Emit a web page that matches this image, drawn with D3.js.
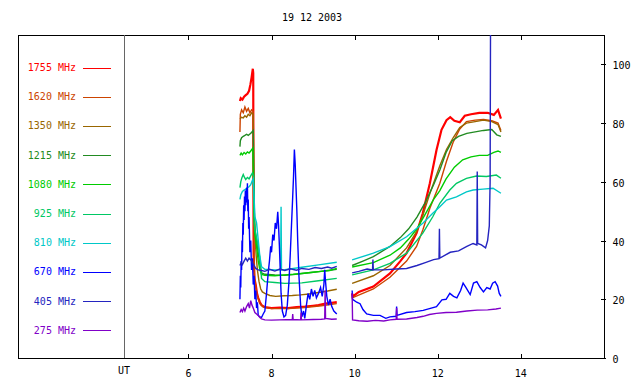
<!DOCTYPE html>
<html><head><meta charset="utf-8">
<script src="https://cdn.jsdelivr.net/npm/d3@7"></script>
<style>
body{margin:0;background:#fff}
svg{display:block}
text{font-family:"DejaVu Sans Mono",monospace;font-size:10px}
</style>
</head><body>
<svg id="chart" width="640" height="384"></svg>
<script>
// ---------- data ----------
const titleText = "19 12 2003";
const xTickHours = [6, 8, 10, 12, 14];
const utHour = 4.45;
const yTickValues = [0, 20, 40, 60, 80, 100];
const legendLabels = ["1755 MHz","1620 MHz","1350 MHz","1215 MHz","1080 MHz","925 MHz","810 MHz","670 MHz","405 MHz","275 MHz"];
const seriesColors = ["#ff0000","#cc4400","#996600","#228b22","#00cc00","#00c864","#00c8c8","#0000ff","#2424c0","#8000c8"];

// [hour UT, flux] ; null value marks the data gap
const f1755 = [[7.24,87.5],[7.26,88.5],[7.30,88],[7.34,89],[7.38,89.5],[7.42,90],[7.46,91],[7.49,93],[7.52,95.5],[7.55,98.5],[7.56,97],[7.565,60],[7.57,35],[7.59,27],[7.62,25],[7.65,22],[7.68,20.5],[7.72,19],[7.76,18],[7.84,17.3],[8.0,17],[8.2,17.2],[8.4,17],[8.6,17.3],[8.8,17.5],[9.0,17.8],[9.13,18],[9.3,18.5],[9.45,18.8],[9.57,19],
  [9.75,null],
  [9.94,22],[9.95,20.9],[10.1,22.5],[10.45,24.3],[10.85,28.8],[11.1,33],[11.25,35.7],[11.49,42.5],[11.64,49.3],[11.81,59.5],[11.97,70.8],[12.09,77.7],[12.21,81],[12.3,82],[12.4,80.8],[12.53,80.3],[12.65,82.5],[12.8,83],[13.0,83.5],[13.2,83.5],[13.35,82.8],[13.45,84.5],[13.52,81.5]];
const f1620 = [[7.24,77],[7.25,83],[7.28,84.5],[7.32,83.5],[7.36,85.5],[7.40,84],[7.44,85],[7.48,83.5],[7.52,84.5],[7.56,84],[7.575,40],[7.59,28],[7.62,24],[7.66,21],[7.72,18.5],[7.8,17.3],[8.0,16.8],[8.4,16.8],[8.8,17.2],[9.2,17.8],[9.57,18.5],
  [9.75,null],
  [9.94,20.5],[10.45,23.5],[10.85,27.5],[11.25,33],[11.49,38],[11.64,43.6],[11.81,51],[12.05,59.5],[12.21,67],[12.37,73.5],[12.53,78],[12.69,80.5],[12.9,81],[13.1,81.2],[13.3,80.8],[13.45,80],[13.52,77.5]];
const f1350 = [[7.24,81.5],[7.28,82],[7.32,81.8],[7.36,82.5],[7.40,82],[7.44,83],[7.48,82.5],[7.52,83.5],[7.56,83],[7.58,55],[7.60,42],[7.63,35],[7.66,30],[7.70,26],[7.74,23.5],[7.78,22.5],[7.84,22],[7.96,21.3],[8.1,21],[8.3,21.2],[8.5,21.3],[8.7,21.5],[8.9,21.8],[9.13,22.3],[9.35,22.8],[9.57,23.4],
  [9.75,null],
  [9.94,25.4],[10.45,28],[10.85,31.5],[11.25,37.5],[11.49,43],[11.64,48.5],[11.81,56],[12.05,65.5],[12.21,71],[12.37,75],[12.53,78.5],[12.69,80],[12.9,80.5],[13.1,81],[13.3,80.5],[13.45,79.5],[13.52,77]];
const f1215 = [[7.24,72],[7.25,74],[7.28,75],[7.32,75.5],[7.36,75.8],[7.40,76.2],[7.44,75.8],[7.48,76.3],[7.52,76.8],[7.56,77.5],[7.58,52],[7.60,44],[7.64,40],[7.68,36],[7.72,32],[7.76,29],[7.84,28.5],[8.08,28.3],[8.32,28.2],[8.52,28.4],[8.73,28.8],[9.0,29.2],[9.13,29.4],[9.35,29.8],[9.57,30.2],
  [9.75,null],
  [9.94,31.5],[10.2,33],[10.45,34.5],[10.85,38],[11.1,41],[11.3,44],[11.5,48],[11.7,53],[11.9,59],[12.05,64],[12.2,70],[12.35,74],[12.5,75.5],[12.7,76.5],[12.9,77],[13.1,77.5],[13.3,77.8],[13.42,76],[13.52,75.5]];
const f1080 = [[7.24,69],[7.27,69.8],[7.30,69.2],[7.34,70],[7.38,69.5],[7.42,70.2],[7.46,69.8],[7.50,70.5],[7.55,71.5],[7.575,50],[7.60,42],[7.64,38],[7.68,33],[7.72,30],[7.76,28.5],[7.84,28.2],[8.08,28],[8.32,28.3],[8.52,28.5],[8.73,28.8],[9.0,29.2],[9.2,29.5],[9.4,29.8],[9.57,30.5],
  [9.75,null],
  [9.94,31],[10.45,32.5],[10.85,35],[11.1,37.5],[11.3,40.5],[11.5,44],[11.7,49],[11.9,54],[12.05,57],[12.2,61],[12.4,65],[12.6,67.5],[12.8,68.5],[13.0,69],[13.2,69],[13.35,70],[13.45,70.5],[13.52,70]];
const f925 = [[7.24,58],[7.26,60],[7.29,61.5],[7.32,62.5],[7.35,61.5],[7.38,60.8],[7.42,61.5],[7.46,61],[7.50,62],[7.54,63],[7.57,62],[7.585,46],[7.60,43.5],[7.64,41],[7.68,38],[7.72,34],[7.76,27.1],[7.84,26],[8.08,25.7],[8.32,25.4],[8.52,25.5],[8.73,25.6],[9.13,26.3],[9.57,27.1],
  [9.75,null],
  [9.94,28.3],[10.45,30],[10.85,32.2],[11.25,35.7],[11.64,42.5],[11.88,48.1],[12.05,52.7],[12.29,57.2],[12.45,59.5],[12.69,61.2],[12.93,62],[13.17,61.8],[13.41,62.3],[13.52,61.2]];
const f810 = [[7.24,54],[7.26,55.5],[7.30,56.7],[7.34,57.2],[7.38,57.5],[7.42,58],[7.46,58.3],[7.50,59],[7.54,60.5],[7.56,61],[7.58,55],[7.60,48.1],[7.64,46],[7.68,40.2],[7.72,34.5],[7.76,31.1],[7.84,30.2],[8.08,30],[8.22,30],[8.23,51.5],[8.24,30],[8.32,30.1],[8.73,30.9],[9.13,31.7],[9.57,32.6],
  [9.75,null],
  [9.94,33.4],[10.45,35.7],[10.85,37.9],[11.25,41.3],[11.64,45.9],[11.88,49.3],[12.05,51.5],[12.21,53.8],[12.45,54.9],[12.69,56.6],[12.85,57.2],[13.09,57.5],[13.33,57.8],[13.52,56.1]];
const f670 = [[7.24,20],[7.25,28],[7.26,24],[7.27,33],[7.28,30],[7.29,40],[7.30,36],[7.31,46],[7.32,42],[7.33,52],[7.34,47],[7.35,55],[7.36,50],[7.37,57],[7.38,52],[7.40,58],[7.41,53],[7.42,59.5],[7.43,50],[7.44,54],[7.45,44],[7.46,48],[7.48,36],[7.50,40],[7.52,30],[7.54,34],[7.56,25],[7.58,28],[7.60,20],[7.62,23],[7.64,17],[7.66,19],[7.68,14.5],[7.72,14],[7.76,13.8],[7.80,15],[7.84,16],[7.88,22],[7.92,29],[7.95,33],[7.98,38],[8.0,36],[8.03,42],[8.06,40],[8.09,46],[8.12,44],[8.15,49.8],[8.17,45],[8.19,38],[8.21,30],[8.23,22],[8.26,16],[8.30,14],[8.34,14.5],[8.38,18],[8.42,26],[8.45,35],[8.48,45],[8.51,55],[8.53,62],[8.55,71],[8.57,66],[8.59,58],[8.61,50],[8.63,40],[8.66,28],[8.70,18],[8.73,14],[8.77,16],[8.80,13.5],[8.84,18],[8.88,22],[8.92,20],[8.96,23.5],[9.0,21],[9.04,23],[9.08,20.5],[9.13,22],[9.18,24],[9.22,21],[9.26,25],[9.28,30],[9.30,26],[9.33,21],[9.37,18],[9.41,20],[9.45,17.5],[9.50,16],[9.57,15],
  [9.75,null],
  [9.94,23],[9.95,20],[10.05,19],[10.13,18.5],[10.2,16.5],[10.29,15],[10.45,14.5],[10.61,14.5],[10.75,13.5],[10.85,14],[11.0,14.2],[11.01,17.5],[11.02,14.5],[11.25,15.5],[11.45,15.8],[11.65,16.2],[11.8,16.8],[11.97,17.5],[12.1,19.8],[12.2,20],[12.29,22],[12.38,21],[12.46,20.5],[12.55,23],[12.61,25.5],[12.68,24],[12.78,21.6],[12.86,25.5],[12.94,26],[13.02,24],[13.1,22.5],[13.18,24],[13.26,23.5],[13.32,25.5],[13.38,26],[13.44,24.5],[13.48,22],[13.52,21]];
const f405 = [[7.24,31.5],[7.27,32.5],[7.30,31.8],[7.34,33],[7.38,34],[7.42,33],[7.46,34],[7.50,33.5],[7.54,32.5],[7.58,31.5],[7.62,30.5],[7.68,30],[7.76,29.8],[7.84,29.5],[7.95,30.2],[8.08,29.6],[8.2,30.3],[8.32,29.8],[8.45,30.4],[8.6,29.9],[8.73,30.5],[8.9,30.2],[9.05,30.8],[9.2,30.5],[9.35,31],[9.45,30.6],[9.57,31.2],
  [9.75,null],
  [9.94,29],[10.1,29.5],[10.3,30.3],[10.43,30],[10.44,33.5],[10.45,30],[10.7,30],[11.0,30.3],[11.25,30.5],[11.5,31.5],[11.7,32.5],[11.9,33.5],[12.03,33.8],[12.04,44],[12.05,34],[12.3,36],[12.5,36.5],[12.7,38],[12.85,39],[12.94,38.5],[12.95,63.5],[12.96,39],[13.05,38.5],[13.15,37.5],[13.2,40],[13.24,45],[13.26,60],[13.27,115]];
const f275 = [[7.24,15.5],[7.27,16.5],[7.30,15.8],[7.33,17],[7.36,16],[7.40,17.5],[7.44,18.5],[7.47,17],[7.50,19.5],[7.53,18],[7.56,17],[7.60,15.5],[7.64,15],[7.68,14.5],[7.72,13.8],[7.76,13.3],[7.84,13],[8.0,12.9],[8.2,13],[8.5,13.1],[8.51,15],[8.52,13.1],[8.7,13],[8.71,15.5],[8.72,13],[9.0,13.1],[9.2,13.2],[9.28,13.3],[9.29,23],[9.30,13.5],[9.45,13.2],[9.57,13.3],
  [9.75,null],
  [9.94,22],[9.95,13],[10.1,12.7],[10.3,12.5],[10.5,12.8],[10.7,12.6],[10.85,13],[11.0,13.2],[11.01,17],[11.02,13.2],[11.25,13.3],[11.5,13.8],[11.65,14.2],[11.8,14.8],[11.97,15.2],[12.2,15.5],[12.45,15.6],[12.7,16],[12.95,16.3],[13.2,16.4],[13.4,16.7],[13.52,17]];

const allSeries = [f1755, f1620, f1350, f1215, f1080, f925, f810, f670, f405, f275];

// ---------- layout ----------
const svg = d3.select("#chart");
const L = 18, R = 604, T = 35, B = 358;
const x = d3.scaleLinear().domain([1.9, 16]).range([L, R]);
const y = d3.scaleLinear().domain([0, 110]).range([B, T]);

svg.append("text").attr("x", 312).attr("y", 21).attr("text-anchor", "middle").attr("fill", "#000").text(titleText);

svg.append("defs").append("clipPath").attr("id", "plotclip")
  .append("rect").attr("x", L).attr("y", T).attr("width", R - L).attr("height", B - T);

// frame
svg.append("rect").attr("x", L + 0.5).attr("y", T + 0.5).attr("width", R - L).attr("height", B - T)
  .attr("fill", "none").attr("stroke", "#000").attr("shape-rendering", "crispEdges");

// UT line
svg.append("line").attr("x1", Math.round(x(utHour)) + 0.5).attr("x2", Math.round(x(utHour)) + 0.5)
  .attr("y1", T).attr("y2", B).attr("stroke", "#666").attr("shape-rendering", "crispEdges");
svg.append("text").attr("x", x(utHour)).attr("y", 374).attr("text-anchor", "middle").text("UT");

// x ticks (bottom + top, inside)
const xt = svg.append("g").attr("shape-rendering", "crispEdges");
xTickHours.forEach(h => {
  const px = Math.round(x(h)) + 0.5;
  xt.append("line").attr("x1", px).attr("x2", px).attr("y1", B + 0.5).attr("y2", B - 4).attr("stroke", "#000");
  xt.append("line").attr("x1", px).attr("x2", px).attr("y1", T + 0.5).attr("y2", T + 5).attr("stroke", "#000");
  svg.append("text").attr("x", x(h)).attr("y", 377).attr("text-anchor", "middle").text(h);
});

// right y axis
const yAxis = d3.axisRight(y).tickValues(yTickValues).tickSize(0).tickPadding(8);
const ya = svg.append("g").attr("transform", `translate(${R + 0.5},0)`).call(yAxis);
ya.select(".domain").remove();
ya.selectAll("text").attr("font-family", "DejaVu Sans Mono").attr("font-size", 10).attr("dy", "0.45em").attr("fill", "#000");
yTickValues.forEach(v => {
  const py = Math.round(y(v)) + 0.5;
  svg.append("line").attr("x1", R - 3).attr("x2", R + 2).attr("y1", py).attr("y2", py)
    .attr("stroke", "#000").attr("shape-rendering", "crispEdges");
});

// legend
legendLabels.forEach((lab, i) => {
  const ly = 67.5 + i * 29.2;
  svg.append("text").attr("x", 76).attr("y", ly + 3.5).attr("text-anchor", "end")
    .attr("fill", seriesColors[i]).text(lab);
  svg.append("line").attr("x1", 83).attr("x2", 111).attr("y1", Math.round(ly) + 0.5).attr("y2", Math.round(ly) + 0.5)
    .attr("stroke", seriesColors[i]).attr("shape-rendering", "crispEdges");
});

// series
const line = d3.line().defined(d => d[1] !== null).x(d => x(d[0])).y(d => y(d[1]));
const plot = svg.append("g").attr("clip-path", "url(#plotclip)");
allSeries.forEach((s, i) => {
  plot.append("path").datum(s).attr("d", line).attr("fill", "none")
    .attr("stroke", seriesColors[i]).attr("stroke-width", i === 0 ? 2.2 : 1.4)
    .attr("stroke-linejoin", "miter");
});
</script>
</body></html>
